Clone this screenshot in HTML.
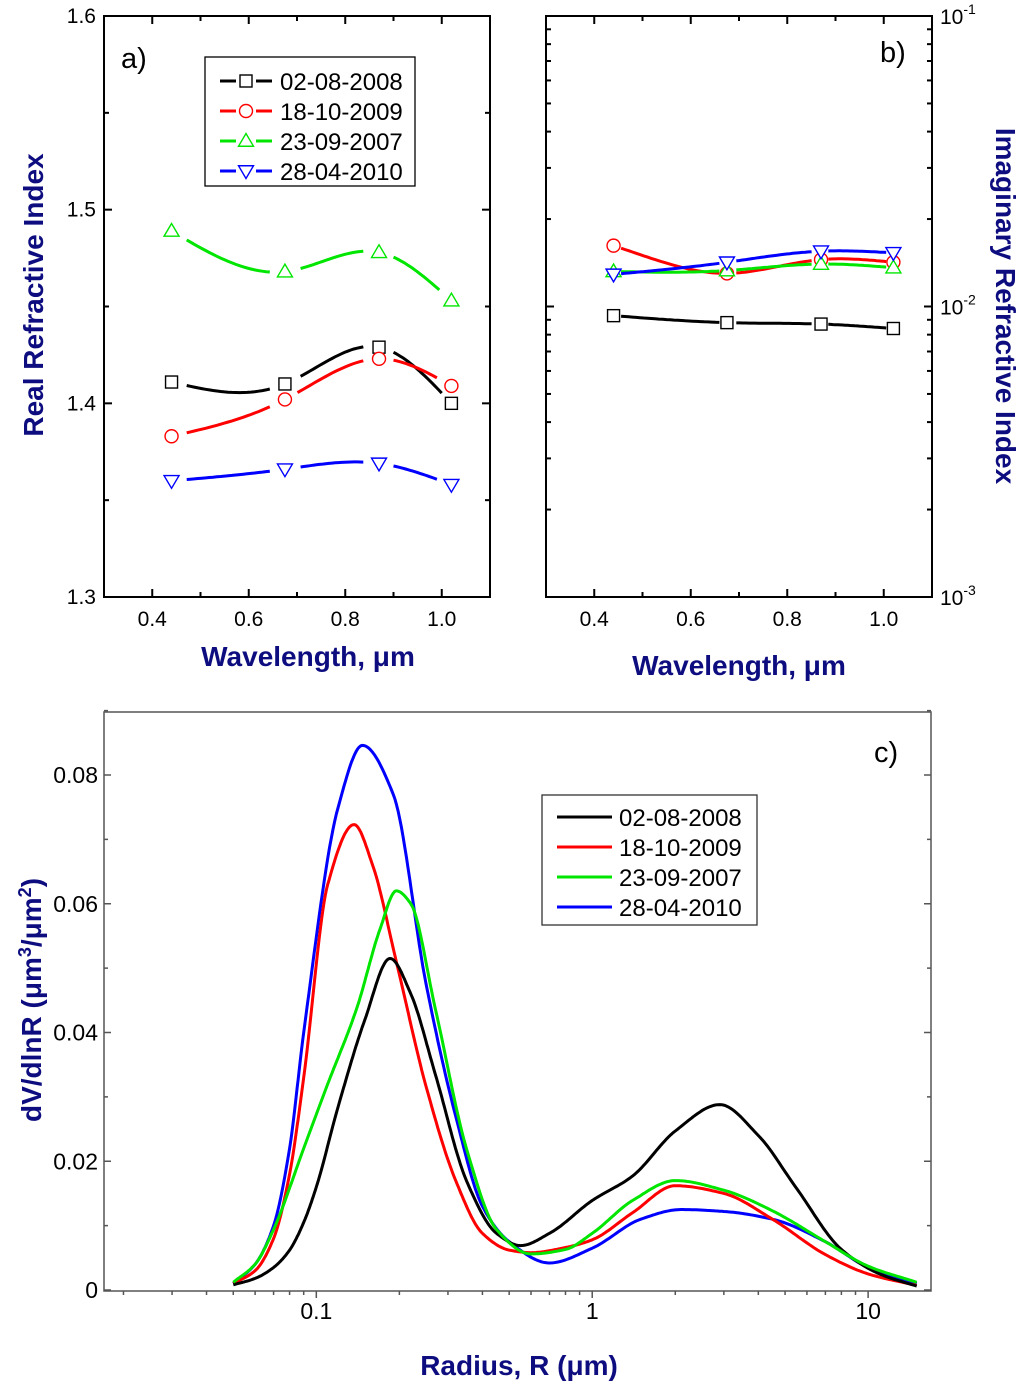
<!DOCTYPE html>
<html><head><meta charset="utf-8">
<style>
html,body{margin:0;padding:0;background:#fff;}
svg{display:block;font-family:"Liberation Sans",Arial,sans-serif;}
.ttl{font-size:28px;font-weight:bold;fill:#0d0d80;}
</style></head>
<body>
<svg id="fig" width="1024" height="1387" viewBox="0 0 1024 1387" xmlns="http://www.w3.org/2000/svg">
<text class="ttl" x="308" y="666" text-anchor="middle">Wavelength, μm</text>
<text class="ttl" x="739" y="675" text-anchor="middle">Wavelength, μm</text>
<text class="ttl" transform="translate(43,295) rotate(-90)" text-anchor="middle">Real  Refractive  Index</text>
<text class="ttl" transform="translate(996,306) rotate(90)" text-anchor="middle">Imaginary  Refractive  Index</text>
<text class="ttl" x="519" y="1375" text-anchor="middle">Radius, R (μm)</text>
<text class="ttl" transform="translate(41,1000) rotate(-90)" text-anchor="middle">dV/dlnR (μm<tspan font-size="18" dy="-10">3</tspan><tspan dy="10">/μm</tspan><tspan font-size="18" dy="-10">2</tspan><tspan dy="10">)</tspan></text>
<text x="121" y="68" font-size="29">a)</text>
<text x="880" y="62" font-size="29">b)</text>
<text x="874" y="762" font-size="29">c)</text>
</svg>
<script>
// ---- Panel a/b data ----
const wavelengths = [0.44, 0.675, 0.87, 1.02];
const seriesNames = ["02-08-2008", "18-10-2009", "23-09-2007", "28-04-2010"];
const realBlack = [1.411, 1.410, 1.429, 1.400];
const realRed = [1.383, 1.402, 1.423, 1.409];
const realGreen = [1.489, 1.468, 1.478, 1.453];
const realBlue = [1.360, 1.366, 1.369, 1.358];
const imagBlack = [0.0093, 0.0088, 0.0087, 0.0084];
const imagRed = [0.0162, 0.0130, 0.0145, 0.0142];
const imagGreen = [0.0132, 0.0133, 0.0140, 0.0136];
const imagBlue = [0.0129, 0.0142, 0.0155, 0.0153];
const xTicksAB = [0.4, 0.6, 0.8, 1.0];
const xTickLabelsAB = ["0.4", "0.6", "0.8", "1.0"];
const yTicksA = [1.3, 1.4, 1.5, 1.6];
const yTickLabelsA = ["1.3", "1.4", "1.5", "1.6"];
const yTicksBExp = [-3, -2, -1];
// ---- Panel c data ----
const radiusBlack = [0.05,0.06,0.07,0.08,0.09,0.1,0.12,0.15,0.185,0.22,0.27,0.35,0.45,0.55,0.7,1.0,1.4,2.0,2.9,4,5.5,8,11,15];
const dvBlack = [0.0008,0.0018,0.0035,0.0062,0.0105,0.016,0.0285,0.042,0.0515,0.046,0.0335,0.017,0.0088,0.0069,0.0088,0.0139,0.0177,0.0247,0.0288,0.024,0.0158,0.0063,0.0025,0.0006];
const radiusRed = [0.05,0.06,0.07,0.08,0.09,0.11,0.137,0.16,0.195,0.25,0.32,0.4,0.5,0.6,0.8,1.0,1.4,2.0,3.0,4.5,7,10,15];
const dvRed = [0.001,0.003,0.008,0.018,0.033,0.063,0.0723,0.066,0.051,0.0316,0.017,0.0088,0.0062,0.0058,0.0066,0.0078,0.012,0.0162,0.015,0.011,0.0055,0.0025,0.0007];
const radiusGreen = [0.05,0.06,0.07,0.09,0.11,0.14,0.17,0.195,0.22,0.27,0.35,0.45,0.6,0.8,1.0,1.4,2.0,3.0,4.5,7,10,15];
const dvGreen = [0.0012,0.004,0.0094,0.022,0.032,0.0437,0.056,0.062,0.060,0.0437,0.022,0.0094,0.0056,0.0063,0.0088,0.0139,0.017,0.0155,0.0123,0.0075,0.0037,0.0012];
const radiusBlue = [0.05,0.06,0.07,0.08,0.09,0.12,0.147,0.19,0.25,0.32,0.4,0.5,0.7,1.0,1.5,2.1,3.0,4.5,7,10,15];
const dvBlue = [0.001,0.004,0.010,0.022,0.040,0.075,0.0846,0.077,0.0475,0.027,0.013,0.0075,0.0042,0.0065,0.011,0.0125,0.0122,0.011,0.0075,0.0035,0.001];
const yTicksC = [0, 0.02, 0.04, 0.06, 0.08];
const yTickLabelsC = ["0", "0.02", "0.04", "0.06", "0.08"];
const xTicksC = [0.1, 1, 10];
const xTickLabelsC = ["0.1", "1", "10"];

const NS = "http://www.w3.org/2000/svg";
const svg = document.getElementById("fig");
const colors = ["#000000", "#ff0000", "#00e600", "#0000ff"];
function mk(tag, attrs, parent) {
  const e = document.createElementNS(NS, tag);
  for (const k in attrs) e.setAttribute(k, attrs[k]);
  (parent || svg).appendChild(e);
  return e;
}
// natural cubic spline
function spline(xs, ys, n) {
  const m = xs.length, h = [], a = [], l = [1], mu = [0], z = [0], c = new Array(m).fill(0), b = [], d = [];
  for (let i = 0; i < m - 1; i++) h.push(xs[i + 1] - xs[i]);
  for (let i = 1; i < m - 1; i++) a[i] = 3 / h[i] * (ys[i + 1] - ys[i]) - 3 / h[i - 1] * (ys[i] - ys[i - 1]);
  for (let i = 1; i < m - 1; i++) { l[i] = 2 * (xs[i + 1] - xs[i - 1]) - h[i - 1] * mu[i - 1]; mu[i] = h[i] / l[i]; z[i] = (a[i] - h[i - 1] * z[i - 1]) / l[i]; }
  for (let j = m - 2; j >= 0; j--) { c[j] = (z[j] || 0) - (mu[j] || 0) * c[j + 1]; b[j] = (ys[j + 1] - ys[j]) / h[j] - h[j] * (c[j + 1] + 2 * c[j]) / 3; d[j] = (c[j + 1] - c[j]) / (3 * h[j]); }
  const out = [];
  for (let j = 0; j < m - 1; j++) for (let k = 0; k < n; k++) {
    const t = h[j] * k / n; out.push([xs[j] + t, ys[j] + b[j] * t + c[j] * t * t + d[j] * t * t * t]);
  }
  out.push([xs[m - 1], ys[m - 1]]);
  return out;
}
// monotone cubic (Fritsch-Carlson)
function monotone(xs, ys, n) {
  const m = xs.length, dl = [], t = [];
  for (let i = 0; i < m - 1; i++) dl.push((ys[i + 1] - ys[i]) / (xs[i + 1] - xs[i]));
  t[0] = dl[0]; t[m - 1] = dl[m - 2];
  for (let i = 1; i < m - 1; i++) {
    if (dl[i - 1] * dl[i] <= 0) t[i] = 0;
    else { const h0 = xs[i] - xs[i - 1], h1 = xs[i + 1] - xs[i]; const w1 = 2 * h1 + h0, w2 = h1 + 2 * h0; t[i] = (w1 + w2) / (w1 / dl[i - 1] + w2 / dl[i]); }
  }
  const out = [];
  for (let j = 0; j < m - 1; j++) {
    const h = xs[j + 1] - xs[j];
    for (let k = 0; k < n; k++) {
      const s = k / n, s2 = s * s, s3 = s2 * s;
      const y = (2 * s3 - 3 * s2 + 1) * ys[j] + (s3 - 2 * s2 + s) * h * t[j] + (-2 * s3 + 3 * s2) * ys[j + 1] + (s3 - s2) * h * t[j + 1];
      out.push([xs[j] + s * h, y]);
    }
  }
  out.push([xs[m - 1], ys[m - 1]]);
  return out;
}
const A = { l: 104, r: 490, t: 16, b: 597 };
const B = { l: 546, r: 932, t: 16, b: 597 };
const C = { l: 104, r: 931, t: 712, b: 1291 };
const xAB = (v, P) => P.l + (v - 0.3) / 0.8 * (P.r - P.l);
const yA = v => A.b - (v - 1.3) / 0.3 * (A.b - A.t);
const yB = v => B.b - (Math.log10(v) + 3) / 2 * (B.b - B.t);
const xC = v => C.l + (Math.log10(v) - Math.log10(0.017)) / (Math.log10(16.9) - Math.log10(0.017)) * (C.r - C.l);
const yC = v => 1290 - v / 0.08 * 515;

function frame(P, name, color, sw) {
  const r = mk("rect", { x: P.l, y: P.t, width: P.r - P.l, height: P.b - P.t, fill: "none", stroke: color, "stroke-width": sw });
  
  
}
frame(A, "panel-a-frame", "#000", 2);
frame(B, "panel-b-frame", "#000", 2);
frame(C, "panel-c-frame", "#555", 1.5);

function tick(x1, y1, x2, y2, name, col, w) {
  const t = mk("line", { x1, y1, x2, y2, stroke: col || "#000", "stroke-width": w || 2 });
  
  
}
function label(x, y, s, anchor, name, size, fam) {
  const t = mk("text", { x, y, "text-anchor": anchor, "font-size": size || 20 });
  if (fam) t.setAttribute("style", "font-family:" + fam);
  t.textContent = s;
  
  
  return t;
}
[A, B].forEach((P) => {
  for (let v = 0.3; v <= 1.101; v += 0.1) {
    const x = xAB(v, P);
    const major = xTicksAB.some(t => Math.abs(t - v) < 1e-6);
    const len = major ? 8 : 5;
    tick(x, P.b, x, P.b - len, "x-tick", "#000", 2);
    tick(x, P.t, x, P.t + len, "x-tick-top", "#000", 2);
  }
  xTicksAB.forEach((v, i) => label(xAB(v, P), P.b + 29, xTickLabelsAB[i], "middle", "x-tick-label", 21));
});
for (let v = 1.3; v <= 1.601; v += 0.05) {
  const y = yA(v);
  const major = yTicksA.some(t => Math.abs(t - v) < 1e-6);
  const len = major ? 8 : 5;
  tick(A.l, y, A.l + len, y, "y-tick");
  tick(A.r, y, A.r - len, y, "y-tick-right");
}
yTicksA.forEach((v, i) => label(A.l - 8, yA(v) + 7, yTickLabelsA[i], "end", "y-tick-label", 21));
for (let e = -3; e < -1; e++) for (let m = 1; m <= 9; m++) {
  const y = yB(m * Math.pow(10, e));
  const len = m === 1 ? 8 : 5;
  tick(B.l, y, B.l + len, y, "y-tick");
  tick(B.r, y, B.r - len, y, "y-tick-right");
}
yTicksBExp.forEach(e => {
  const t = label(B.r + 8, yB(Math.pow(10, e)) + 8, "10", "start", "y-tick-label", 21);
  const s = mk("tspan", { dy: -10, "font-size": 14 }, t);
  s.textContent = String(e);
});
function drawMarker(x, y, type, col) {
  const s = 7.5;
  if (type === "sq") return mk("rect", { x: x - 6, y: y - 6, width: 12, height: 12, fill: "#fff", stroke: col, "stroke-width": 1.4 });
  if (type === "ci") return mk("circle", { cx: x, cy: y, r: 6.5, fill: "#fff", stroke: col, "stroke-width": 1.4 });
  if (type === "up") return mk("polygon", { points: `${x},${y - s} ${x - s},${y + s * 0.7} ${x + s},${y + s * 0.7}`, fill: "#fff", stroke: col, "stroke-width": 1.4 });
  return mk("polygon", { points: `${x},${y + s} ${x - s},${y - s * 0.7} ${x + s},${y - s * 0.7}`, fill: "#fff", stroke: col, "stroke-width": 1.4 });
}
function drawSeries(P, xs, ys, yf, ci, marker, name, gap, lw) {
  const pts = spline(xs, ys, 30).map(p => [xAB(p[0], P), yf(p[1])]);
  const mpts = xs.map((x, i) => [xAB(x, P), yf(ys[i])]);
  let d = "", pen = false;
  pts.forEach(p => {
    const near = mpts.some(m => Math.hypot(m[0] - p[0], m[1] - p[1]) < gap);
    if (near) { pen = false; return; }
    d += (pen ? "L" : "M") + p[0].toFixed(1) + "," + p[1].toFixed(1); pen = true;
  });
  const path = mk("path", { d, fill: "none", stroke: colors[ci], "stroke-width": lw });
  
  
  mpts.forEach(m => {
    const el = drawMarker(m[0], m[1], marker, colors[ci]);
    
    
  });
}
const mtypes = ["sq", "ci", "up", "dn"];
const realData = [realBlack, realRed, realGreen, realBlue];
const imagData = [imagBlack, imagRed, imagGreen, imagBlue];
realData.forEach((ys, i) => drawSeries(A, wavelengths, ys, yA, i, mtypes[i], "real-" + seriesNames[i], 14, 3));
imagData.forEach((ys, i) => drawSeries(B, wavelengths, ys, yB, i, mtypes[i], "imag-" + seriesNames[i], 7, 3));
const legA = mk("rect", { x: 205, y: 57, width: 210, height: 129, fill: "#fff", stroke: "#000", "stroke-width": 1.3 });


seriesNames.forEach((n, i) => {
  const y = 81 + i * 30;
  tick(220, y, 236, y, "legend-line", colors[i], 3);
  tick(256, y, 272, y, "legend-line", colors[i], 3);
  const m = drawMarker(246, y, mtypes[i], colors[i]);
  
  
  label(280, y + 9, n, "start", "legend-entry", 24);
});
for (let v = 0; v <= 0.0901; v += 0.01) {
  const y = yC(v);
  const major = Math.round(v * 100) % 2 === 0;
  tick(C.l, y, C.l + (major ? 7 : 4), y, "y-tick", "#555", 1.5);
  tick(C.r, y, C.r - (major ? 7 : 4), y, "y-tick-right", "#555", 1.5);
}
const narrow = "'Liberation Sans Narrow','Liberation Sans',sans-serif";
yTicksC.forEach((v, i) => label(C.l - 6, yC(v) + 8, yTickLabelsC[i], "end", "y-tick-label", 23, narrow));
for (let e = -2; e <= 1; e++) for (let m = 1; m <= 9; m++) {
  const v = m * Math.pow(10, e);
  if (v < 0.017 || v > 16.9) continue;
  const x = xC(v);
  tick(x, C.b, x, C.b + (m === 1 ? 7 : 4), "x-tick", "#555", 1.5);
}
xTicksC.forEach((v, i) => label(xC(v), C.b + 28, xTickLabelsC[i], "middle", "x-tick-label", 23, narrow));
const radiusData = [radiusBlack, radiusRed, radiusGreen, radiusBlue];
const dvData = [dvBlack, dvRed, dvGreen, dvBlue];
[3, 1, 0, 2].forEach(i => {
  const lx = radiusData[i].map(r => Math.log10(r));
  const pts = monotone(lx, dvData[i], 20);
  const d = pts.map((p, k) => (k ? "L" : "M") + xC(Math.pow(10, p[0])).toFixed(1) + "," + yC(Math.max(0, p[1])).toFixed(1)).join("");
  const path = mk("path", { d, fill: "none", stroke: colors[i], "stroke-width": 3, "stroke-linejoin": "round" });
  
  
});
const legC = mk("rect", { x: 542, y: 795, width: 215, height: 130, fill: "#fff", stroke: "#333", "stroke-width": 1.3 });


seriesNames.forEach((n, i) => {
  const y = 817 + i * 30;
  tick(557, y, 612, y, "legend-line", colors[i], 3);
  label(619, y + 9, n, "start", "legend-entry", 24, narrow);
});
</script>
</body></html>
